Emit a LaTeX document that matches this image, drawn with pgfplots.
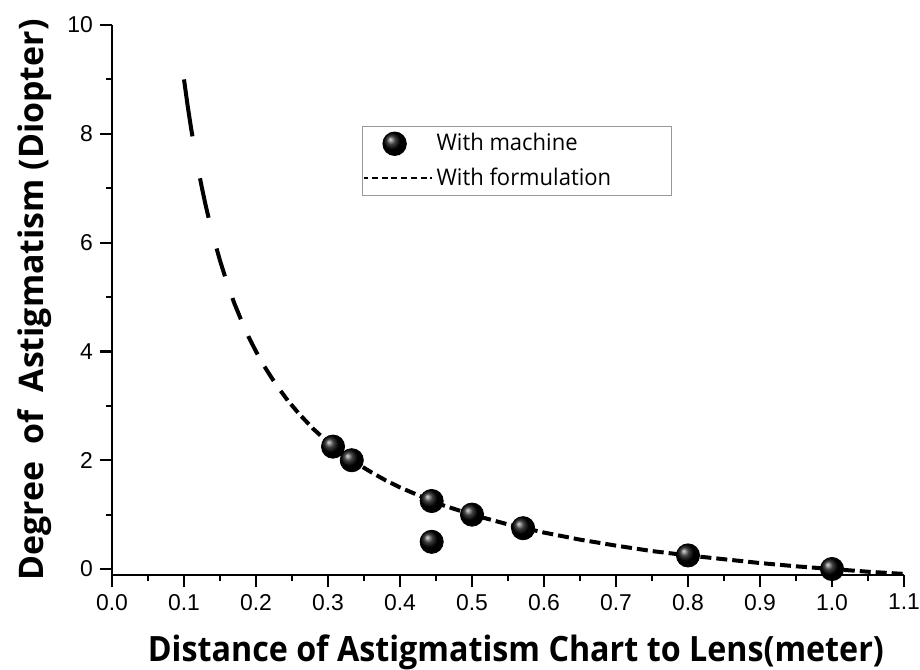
\documentclass[border=0pt]{standalone}
\usepackage{fontspec}
\setmainfont{Open Sans}
\newfontfamily\xlabfont{Open Sans}[FakeStretch=0.925]
\newfontfamily\legfont{Open Sans}[FakeStretch=0.96]
\newfontfamily\tickfont{Liberation Sans}
\usepackage{pgfplots}
\pgfplotsset{compat=1.18}

\begin{document}
\begin{tikzpicture}
\begin{axis}[
  name=ax,
  scale only axis,
  width=396bp, height=275bp,
  xmin=0, xmax=1.1,
  ymin=-0.11, ymax=10,
  axis x line*=bottom,
  axis y line*=left,
  axis line style={line width=1.3bp, black},
  xtick={0,0.1,...,1.1},
  ytick={0,2,4,6,8,10},
  minor x tick num=1,
  minor y tick num=1,
  tick align=outside,
  major tick length=6bp,
  minor tick length=3bp,
  tick style={line width=1.1bp, black},
  /pgf/number format/assume math mode=true,
  tick label style={font=\tickfont\fontsize{11.5}{13}\selectfont},
  xticklabel style={/pgf/number format/.cd, fixed, fixed zerofill, precision=1},
  xlabel={\xlabfont\bfseries Distance of Astigmatism Chart to Lens(meter)},
  ylabel={\bfseries Degree\ \ of\ \ Astigmatism (Diopter)},
  xlabel style={font=\fontsize{17.5}{19}\selectfont, at={(axis description cs:0.51,0)}, anchor=base, yshift=-43bp},
  ylabel style={font=\fontsize{17}{19}\selectfont, at={(axis description cs:0,0.5)}, anchor=base, yshift=34bp},
  legend style={at={(axis description cs:0.3157,0.8164)}, anchor=north west,
    draw=gray!80, line width=0.6bp, inner xsep=0pt, inner ysep=1.5bp,
    font=\legfont\fontsize{11.5}{13}\selectfont,
    row sep=3bp},
  legend cell align=left,
]
\addplot[only marks, mark=ball, mark size=5.8bp, mark options={ball color=black},
  legend image code/.code={\draw[mark repeat=1, mark phase=1] plot coordinates {(15.5bp,0bp)};}]
  coordinates {(0.307,2.25) (0.333,2.0) (0.444,1.25) (0.444,0.5) (0.5,1.0) (0.571,0.75) (0.8,0.25) (1.0,0.0)};
\addlegendentry{With machine}
\addplot[line width=2bp, black, forget plot,
  dash pattern=on 28.8bp off 21.3bp on 20.2bp off 15.9bp on 14.5bp off 11.5bp on 11.4bp off 9.2bp on 10.3bp off 7bp on 8.5bp off 6.1bp on 7.5bp off 60bp]
  coordinates {(0.100,9.00) (0.105,8.52) (0.110,8.09) (0.115,7.70) (0.120,7.33) (0.125,7.00) (0.130,6.69) (0.135,6.41) (0.140,6.14) (0.150,5.67) (0.160,5.25) (0.170,4.88) (0.180,4.56) (0.190,4.26) (0.200,4.00) (0.210,3.76) (0.220,3.55) (0.230,3.35) (0.244,3.10)};
\addplot[line width=2bp, black, dash pattern=on 5.5bp off 2.5bp, dash phase=5.5bp,
  legend image code/.code={\draw[line width=1bp, dash pattern=on 3bp off 1.85bp] (0bp,0bp) -- (34bp,0bp);}]
  coordinates {(0.244,3.10) (0.26,2.85) (0.28,2.57) (0.30,2.33) (0.32,2.13) (0.34,1.94) (0.36,1.78) (0.38,1.63) (0.40,1.50) (0.43,1.33) (0.46,1.17) (0.50,1.00) (0.55,0.82) (0.60,0.67) (0.65,0.54) (0.70,0.43) (0.75,0.33) (0.80,0.25) (0.85,0.18) (0.90,0.11) (0.95,0.05) (1.00,0.00) (1.05,-0.05) (1.10,-0.09)};
\addlegendentry{With formulation\hspace*{28bp}}
\end{axis}
\pgfresetboundingbox
\path[use as bounding box] ([xshift=-56bp,yshift=-47.5bp]ax.south west) rectangle ([xshift=8bp,yshift=12.5bp]ax.north east);
\end{tikzpicture}
\end{document}
